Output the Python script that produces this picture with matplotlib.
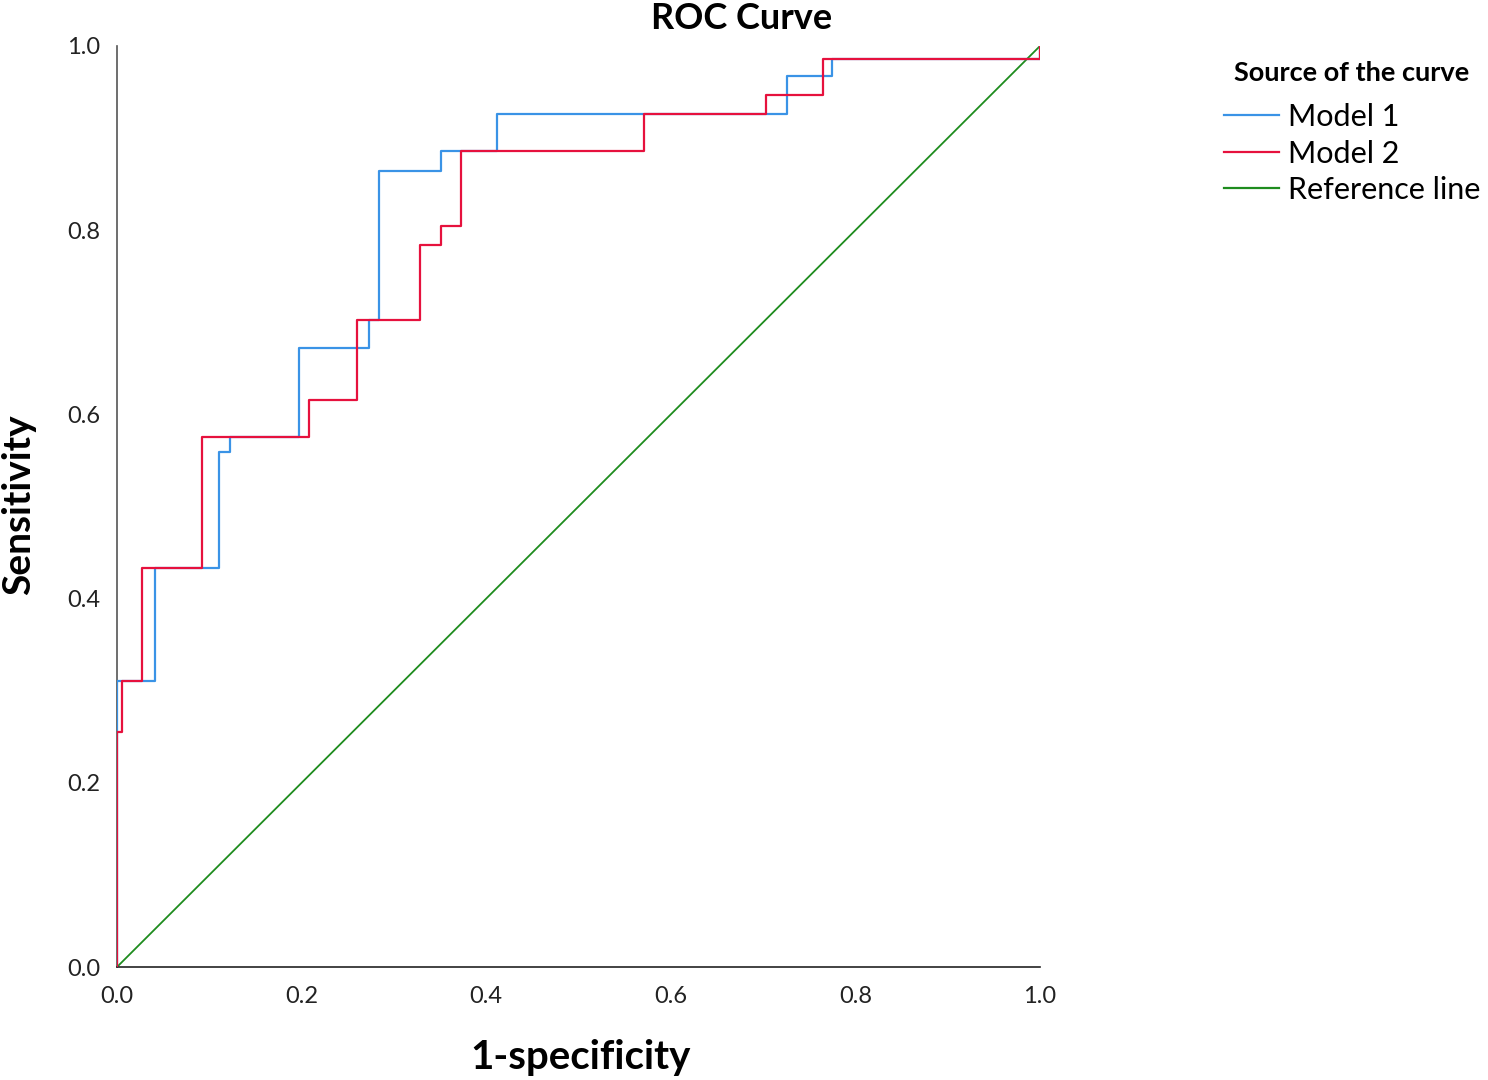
import numpy as np
import matplotlib.pyplot as plt

# ROC step points (1-specificity, sensitivity)
m1_fpr = [0.0, 0.0, 0.0, 0.041, 0.041, 0.110, 0.110, 0.122, 0.122, 0.197, 0.197,
          0.273, 0.273, 0.284, 0.284, 0.351, 0.351, 0.412, 0.412, 0.726, 0.726,
          0.775, 0.775, 1.0, 1.0]
m1_tpr = [0.0, 0.255, 0.310, 0.310, 0.433, 0.433, 0.559, 0.559, 0.575, 0.575, 0.672,
          0.672, 0.702, 0.702, 0.864, 0.864, 0.886, 0.886, 0.926, 0.926, 0.967,
          0.967, 0.986, 0.986, 1.0]

m2_fpr = [0.0, 0.0, 0.005, 0.005, 0.027, 0.027, 0.092, 0.092, 0.208, 0.208, 0.260,
          0.260, 0.328, 0.328, 0.351, 0.351, 0.373, 0.373, 0.571, 0.571, 0.703,
          0.703, 0.765, 0.765, 1.0, 1.0]
m2_tpr = [0.0, 0.255, 0.255, 0.310, 0.310, 0.433, 0.433, 0.575, 0.575, 0.616, 0.616,
          0.702, 0.702, 0.784, 0.784, 0.805, 0.805, 0.886, 0.886, 0.926, 0.926,
          0.947, 0.947, 0.986, 0.986, 1.0]

ref_x = [0.0, 1.0]
ref_y = [0.0, 1.0]

ticks = [0.0, 0.2, 0.4, 0.6, 0.8, 1.0]

plt.rcParams['font.family'] = ['Lato', 'DejaVu Sans']

fig = plt.figure(figsize=(14.88, 10.8), dpi=100)
ax = fig.add_axes([117 / 1488, 113 / 1080, 923 / 1488, 921 / 1080])

ax.plot(m1_fpr, m1_tpr, color='#3a93e6', linewidth=1.6, label='Model 1', zorder=3)
ax.plot(m2_fpr, m2_tpr, color='#e6113d', linewidth=1.6, label='Model 2', zorder=4)
ax.plot(ref_x, ref_y, color='#1e8c1e', linewidth=1.3, label='Reference line', zorder=2)

ax.set_xlim(0, 1)
ax.set_ylim(0, 1)
ax.set_xticks(ticks)
ax.set_yticks(ticks)
ax.set_xticklabels([f'{t:.1f}' for t in ticks])
ax.set_yticklabels([f'{t:.1f}' for t in ticks])
ax.tick_params(length=0, labelsize=17, pad=14, colors='#222222')
ax.tick_params(axis='y', pad=12)

for s in ['top', 'right']:
    ax.spines[s].set_visible(False)
ax.spines['left'].set_color('#555555')
ax.spines['bottom'].set_color('#222222')
ax.spines['left'].set_linewidth(1.2)
ax.spines['bottom'].set_linewidth(1.2)

ax.set_xlabel('1-specificity', fontsize=29, fontweight='bold')
ax.set_ylabel('Sensitivity', fontsize=28, fontweight='bold')
ax.xaxis.set_label_coords((581 - 117) / 923, (967 - 1058) / 921)
ax.yaxis.set_label_coords((19 - 117) / 923, (967 - 505) / 921)
ax.xaxis.label.set_va('center')
ax.yaxis.label.set_va('center')
fig.text(742 / 1488, 0.998, 'ROC Curve', ha='center', va='top', fontsize=26, fontweight='bold')

leg = ax.legend(loc='upper left', bbox_to_anchor=(1224 / 1488, 1019 / 1080),
                bbox_transform=fig.transFigure, frameon=False, fontsize=22,
                title='Source of the curve', handlelength=1.8, handletextpad=0.28,
                labelspacing=0.28, borderaxespad=0, borderpad=0)
leg.get_title().set_fontweight('bold')
leg.get_title().set_fontsize(19.5)
leg._legend_box.align = 'center'
leg._legend_box.sep = 13
for line in leg.get_lines():
    line.set_linewidth(1.6)

fig.savefig('out.png', dpi=100)
